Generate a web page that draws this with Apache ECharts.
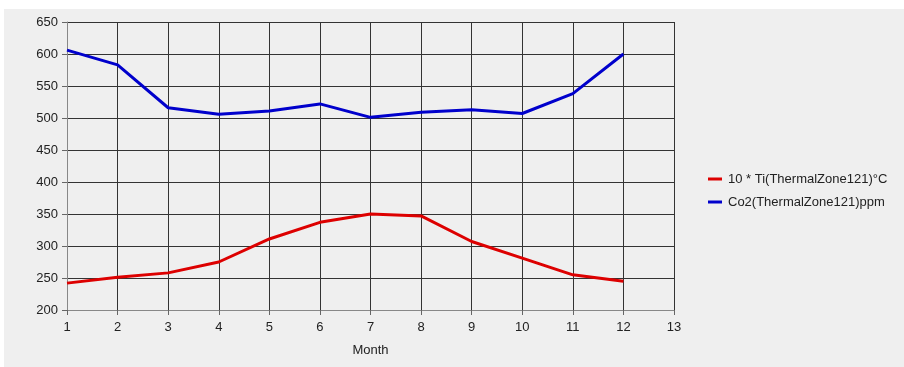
<!DOCTYPE html>
<html><head><meta charset="utf-8">
<script src="https://cdn.jsdelivr.net/npm/echarts@6/dist/echarts.min.js"></script>
<style>html,body{margin:0;padding:0;background:#fff}#c{width:904px;height:367px}</style>
</head><body><div id="c"></div>
<script>
const months = [1,2,3,4,5,6,7,8,9,10,11,12];
const tempSeriesName = '10 * Ti(ThermalZone121)°C';
const co2SeriesName = 'Co2(ThermalZone121)ppm';
const tempValues = [242, 251, 258, 275, 311, 337, 350, 347, 307, 281, 255, 245];
const co2Values = [606, 583, 516, 506, 511, 522, 501, 509, 513, 507, 538, 600];
const xAxisName = 'Month';

const chart = echarts.init(document.getElementById('c'), null, {renderer:'canvas'});
const txt = '#222';
const ff = 'Liberation Sans, Arial, sans-serif';
chart.setOption({
  backgroundColor:'#ffffff',
  animation:false,
  textStyle:{fontFamily:ff},
  graphic:[{type:'rect', z:-10, shape:{x:4,y:9,width:900,height:358}, style:{fill:'#efefef'}}],
  grid:{left:67, right:230, top:22, bottom:57},
  legend:{
    orient:'vertical', left:703, top:167, itemGap:9,
    icon:'rect', itemWidth:14, itemHeight:3,
    textStyle:{color:txt, fontSize:13, lineHeight:14, fontFamily:ff, padding:[0,0,0,1]},
    data:[tempSeriesName, co2SeriesName]
  },
  xAxis:{
    type:'value', min:1, max:13, interval:1,
    name:xAxisName, nameLocation:'middle', nameGap:34,
    nameTextStyle:{color:txt, fontSize:13, fontFamily:ff},
    axisLine:{show:true, lineStyle:{color:'#888', width:1}},
    axisTick:{show:true, length:5, inside:false, lineStyle:{color:'#666'}},
    axisLabel:{color:txt, fontSize:13, margin:11, fontFamily:ff},
    splitLine:{show:true, lineStyle:{color:'#333', width:1}}
  },
  yAxis:{
    type:'value', min:200, max:650, interval:50,
    axisLine:{show:true, lineStyle:{color:'#888', width:1}},
    axisTick:{show:true, length:5, lineStyle:{color:'#666'}},
    axisLabel:{color:txt, fontSize:13, margin:9, fontFamily:ff},
    splitLine:{show:true, lineStyle:{color:'#333', width:1}}
  },
  series:[
    {name:tempSeriesName, type:'line', data:months.map((m,i)=>[m,tempValues[i]]), symbol:'none',
     lineStyle:{color:'#dd0000', width:3}, itemStyle:{color:'#dd0000'}},
    {name:co2SeriesName, type:'line', data:months.map((m,i)=>[m,co2Values[i]]), symbol:'none',
     lineStyle:{color:'#0000cc', width:3}, itemStyle:{color:'#0000cc'}}
  ]
});
</script></body></html>
